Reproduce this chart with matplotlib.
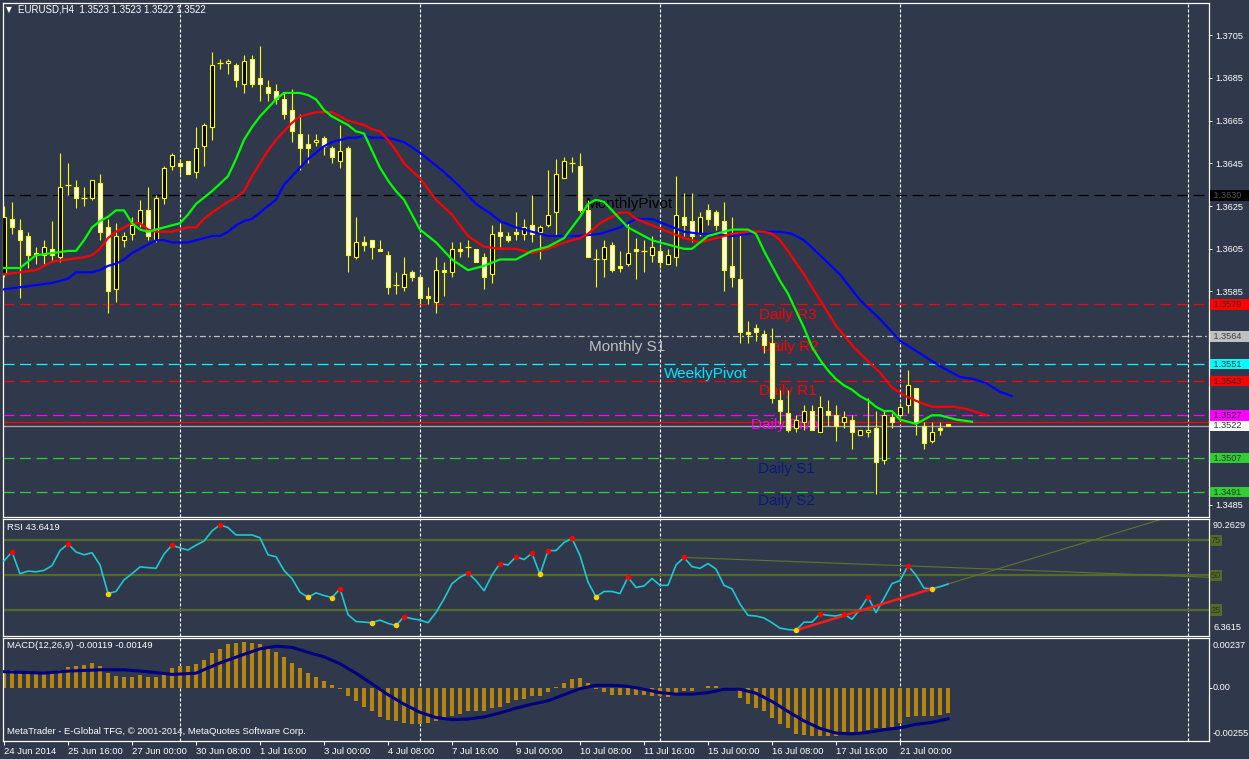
import numpy as np
import matplotlib.pyplot as plt
from matplotlib.patches import Rectangle
from matplotlib.transforms import blended_transform_factory

plt.rcParams['font.family'] = ['Liberation Sans', 'DejaVu Sans']
plt.rcParams['lines.scale_dashes'] = False

W, H = 1249, 759
bg = '#2f394b'

# EURUSD H4 candles, 24 Jun 08:00 .. 22 Jul 00:00
opens = [1.3593, 1.3619, 1.3614, 1.3611, 1.3603, 1.3602, 1.3605, 1.3601, 1.3635, 1.3634,
         1.3629, 1.3629, 1.3636, 1.3615, 1.3586, 1.3609, 1.3612, 1.3617, 1.3623, 1.3609,
         1.3629, 1.3644, 1.3645, 1.3646, 1.3641, 1.3653, 1.3662, 1.3692, 1.3692, 1.3691,
         1.3682, 1.3694, 1.3685, 1.3681, 1.3679, 1.3675, 1.3670, 1.3659, 1.3654, 1.3655,
         1.3657, 1.3652, 1.3646, 1.3652, 1.3601, 1.3608, 1.3609, 1.3605, 1.3602, 1.3588,
         1.3587, 1.3594, 1.3592, 1.3583, 1.3580, 1.3595, 1.3594, 1.3605, 1.3606, 1.3605,
         1.3601, 1.3593, 1.3613, 1.3611, 1.3613, 1.3612, 1.3616, 1.3613, 1.3616, 1.3622,
         1.3638, 1.3645, 1.3644, 1.3623, 1.3600, 1.3600, 1.3607, 1.3597, 1.3598, 1.3605,
         1.3604, 1.3602, 1.3604, 1.3598, 1.3601, 1.3620, 1.3618, 1.3612, 1.3623, 1.3622,
         1.3618, 1.3597, 1.3591, 1.3566, 1.3568, 1.3565, 1.3561, 1.3534, 1.3528, 1.3521,
         1.3524, 1.3529, 1.3519, 1.3529, 1.3527, 1.3524, 1.3525, 1.3518, 1.3519, 1.3521,
         1.3506, 1.3526, 1.3527, 1.3532, 1.3540, 1.3522, 1.3515, 1.3521, 1.3523]
highs = [1.3625, 1.3627, 1.3619, 1.3613, 1.3606, 1.3609, 1.3618, 1.3650, 1.3645, 1.3637,
         1.3634, 1.3637, 1.3640, 1.3619, 1.3617, 1.3613, 1.3620, 1.3628, 1.3634, 1.3630,
         1.3644, 1.3650, 1.3647, 1.3646, 1.3662, 1.3664, 1.3697, 1.3694, 1.3694, 1.3692,
         1.3696, 1.3696, 1.3700, 1.3684, 1.3682, 1.3678, 1.3680, 1.3668, 1.3659, 1.3659,
         1.3658, 1.3653, 1.3663, 1.3653, 1.3620, 1.3611, 1.3609, 1.3609, 1.3604, 1.3594,
         1.3601, 1.3595, 1.3592, 1.3587, 1.3601, 1.3599, 1.3608, 1.3608, 1.3609, 1.3605,
         1.3603, 1.3616, 1.3617, 1.3613, 1.3622, 1.3619, 1.3630, 1.3616, 1.3642, 1.3647,
         1.3648, 1.3648, 1.3650, 1.3628, 1.3605, 1.3609, 1.3608, 1.3604, 1.3617, 1.3610,
         1.3609, 1.3611, 1.3606, 1.3605, 1.3639, 1.3631, 1.3631, 1.3622, 1.3626, 1.3623,
         1.3627, 1.3620, 1.3612, 1.3571, 1.3570, 1.3567, 1.3568, 1.3539, 1.3539, 1.3527,
         1.3532, 1.3532, 1.3536, 1.3534, 1.3532, 1.3529, 1.3527, 1.3520, 1.3535, 1.3529,
         1.3529, 1.3528, 1.3533, 1.3548, 1.3540, 1.3524, 1.3524, 1.3524, 1.3523]
lows = [1.3592, 1.3612, 1.3582, 1.3596, 1.3598, 1.3598, 1.3599, 1.3599, 1.3630, 1.3624,
        1.3625, 1.3628, 1.3609, 1.3575, 1.3580, 1.3606, 1.3609, 1.3615, 1.3609, 1.3608,
        1.3626, 1.3642, 1.3640, 1.3640, 1.3638, 1.3644, 1.3656, 1.3689, 1.3687, 1.3681,
        1.3678, 1.3681, 1.3674, 1.3674, 1.3673, 1.3666, 1.3655, 1.3642, 1.3645, 1.3653,
        1.3649, 1.3645, 1.3643, 1.3594, 1.3600, 1.3604, 1.3600, 1.3604, 1.3584, 1.3584,
        1.3585, 1.3590, 1.3579, 1.3579, 1.3575, 1.3583, 1.3592, 1.3601, 1.3601, 1.3599,
        1.3586, 1.3589, 1.3606, 1.3608, 1.3609, 1.3609, 1.3608, 1.3600, 1.3615, 1.3611,
        1.3638, 1.3641, 1.3622, 1.3601, 1.3587, 1.3592, 1.3594, 1.3594, 1.3597, 1.3591,
        1.3594, 1.3599, 1.3596, 1.3598, 1.3597, 1.3611, 1.3608, 1.3611, 1.3616, 1.3614,
        1.3585, 1.3587, 1.3561, 1.3561, 1.3562, 1.3556, 1.3533, 1.3523, 1.3519, 1.3519,
        1.3520, 1.3520, 1.3519, 1.3522, 1.3515, 1.3521, 1.3511, 1.3518, 1.3517, 1.3490,
        1.3504, 1.3521, 1.3526, 1.3528, 1.3518, 1.3511, 1.3514, 1.3518, 1.3522]
closes = [1.3620, 1.3615, 1.3609, 1.3602, 1.3602, 1.3606, 1.3602, 1.3634, 1.3635, 1.3629,
          1.3629, 1.3637, 1.3613, 1.3585, 1.3611, 1.3611, 1.3616, 1.3623, 1.3611, 1.3629,
          1.3643, 1.3649, 1.3644, 1.3640, 1.3652, 1.3663, 1.3691, 1.3692, 1.3693, 1.3684,
          1.3693, 1.3682, 1.3682, 1.3678, 1.3675, 1.3668, 1.3660, 1.3652, 1.3652, 1.3656,
          1.3653, 1.3648, 1.3651, 1.3602, 1.3608, 1.3607, 1.3606, 1.3604, 1.3587, 1.3588,
          1.3593, 1.3592, 1.3582, 1.3582, 1.3595, 1.3594, 1.3605, 1.3604, 1.3606, 1.3599,
          1.3592, 1.3612, 1.3611, 1.3609, 1.3612, 1.3615, 1.3612, 1.3615, 1.3621, 1.3640,
          1.3646, 1.3645, 1.3623, 1.3601, 1.3600, 1.3606, 1.3595, 1.3596, 1.3603, 1.3604,
          1.3604, 1.3606, 1.3599, 1.3602, 1.3621, 1.3616, 1.3611, 1.3620, 1.3619, 1.3616,
          1.3595, 1.3592, 1.3566, 1.3565, 1.3566, 1.3560, 1.3535, 1.3529, 1.3520, 1.3525,
          1.3529, 1.3520, 1.3531, 1.3527, 1.3522, 1.3526, 1.3519, 1.3520, 1.3520, 1.3505,
          1.3527, 1.3524, 1.3531, 1.3541, 1.3524, 1.3514, 1.3519, 1.3520, 1.3522]

# Alligator lines (lips / teeth / jaw), read at sample bars
lips_x = [0, 2, 4, 6, 8, 9, 10, 11, 12, 13, 14, 15, 16, 17, 18, 19, 20, 21, 22, 23, 24, 25, 26, 28,
          29, 30, 31, 32, 33, 34, 35, 36, 37, 38, 39, 40, 41, 42, 43, 44, 45, 46, 47, 48, 49, 50,
          52, 54, 56, 58, 60, 62, 64, 66, 68, 70, 72, 73, 74, 75, 76, 77, 78, 79, 80, 81, 82, 83,
          84, 85, 86, 87, 88, 89, 90, 91, 92, 93, 94, 95, 96, 97, 98, 99, 100, 101, 102, 103,
          104, 105, 106, 107, 108, 109, 110, 111, 112, 113, 114, 115, 116, 117, 118, 119, 121]
lips_y = [1.3596, 1.3596, 1.3602, 1.3603, 1.3604, 1.3604, 1.3609, 1.3615, 1.3618, 1.3620, 1.3623,
          1.3623, 1.3617, 1.3614, 1.3613, 1.3614, 1.3615, 1.3616, 1.3617, 1.3621, 1.3626, 1.3629,
          1.3632, 1.3639, 1.3647, 1.3656, 1.3662, 1.3667, 1.3671, 1.3675, 1.3678, 1.3678, 1.3678,
          1.3677, 1.3675, 1.3670, 1.3667, 1.3665, 1.3663, 1.3660, 1.3659, 1.3651, 1.3643, 1.3637,
          1.3632, 1.3628, 1.3614, 1.3608, 1.3600, 1.3595, 1.3597, 1.3600, 1.3600, 1.3604, 1.3606,
          1.3610, 1.3620, 1.3626, 1.3628, 1.3627, 1.3623, 1.3619, 1.3615, 1.3613, 1.3611, 1.3609,
          1.3608, 1.3607, 1.3606, 1.3605, 1.3605, 1.3608, 1.3611, 1.3612, 1.3613, 1.3614, 1.3614,
          1.3614, 1.3612, 1.3604, 1.3597, 1.3590, 1.3584, 1.3576, 1.3568, 1.3559, 1.3553, 1.3548,
          1.3544, 1.3541, 1.3539, 1.3536, 1.3534, 1.3531, 1.3529, 1.3529, 1.3525, 1.3524, 1.3523,
          1.3525, 1.3527, 1.3527, 1.3526, 1.3525, 1.3524]
teeth_x = [0, 2, 4, 5, 6, 8, 10, 11, 12, 13, 14, 15, 16, 17, 18, 19, 20, 21, 22, 23, 24, 25, 26,
           28, 29, 30, 31, 32, 33, 34, 35, 36, 37, 38, 39, 40, 41, 42, 43, 44, 45, 46, 47, 48, 49,
           50, 52, 54, 56, 58, 60, 62, 64, 66, 68, 70, 72, 73, 74.5, 76, 77, 78, 79, 81, 83, 85,
           87, 89, 91, 93, 95, 96, 97, 98, 100, 102, 104, 106.2, 107.8, 109.5, 111, 112.7, 114.5,
           116, 117, 118.7, 120.3, 122.8]
teeth_y = [1.3593, 1.3594, 1.3595, 1.3597, 1.3599, 1.3600, 1.3601, 1.3602, 1.3605, 1.3610, 1.3613,
           1.3615, 1.3617, 1.3617, 1.3614, 1.3613, 1.3613, 1.3613, 1.3614, 1.3615, 1.3615, 1.3619,
           1.3622, 1.3627, 1.3629, 1.3632, 1.3639, 1.3645, 1.3651, 1.3656, 1.3660, 1.3664, 1.3667,
           1.3668, 1.3669, 1.3669, 1.3669, 1.3667, 1.3665, 1.3664, 1.3663, 1.3661, 1.3660, 1.3656,
           1.3651, 1.3645, 1.3638, 1.3628, 1.3621, 1.3611, 1.3606, 1.3605, 1.3605, 1.3603, 1.3605,
           1.3608, 1.3610, 1.3612, 1.3617, 1.3620, 1.3622, 1.3622, 1.3619, 1.3616, 1.3613, 1.3610,
           1.3608, 1.3610, 1.3612, 1.3613, 1.3613, 1.3612, 1.3609, 1.3604, 1.3593, 1.3581, 1.3569,
           1.3559, 1.3553, 1.3547, 1.3540, 1.3536, 1.3533, 1.3531, 1.3531, 1.3531, 1.3530, 1.3527]
jaw_x = [0, 2, 4, 6, 8, 9, 11, 12, 13, 14, 15, 16, 17, 18, 19, 20, 21, 22, 23, 24, 25, 26, 27, 28,
         29, 30, 31, 32, 33, 34, 35, 36, 37, 38, 39, 40, 41, 42, 43, 44, 45, 46, 47, 48, 49, 50,
         52, 55, 57, 59, 61, 62, 64, 66, 68, 70, 72, 74.5, 77, 79, 81, 83, 85, 87, 89, 91, 93, 95,
         97, 98.5, 100, 102, 104.5, 107, 109.5, 112, 114.5, 117, 119.5, 121.2, 122.8, 124.5, 126]
jaw_y = [1.3586, 1.3587, 1.3588, 1.3589, 1.3591, 1.3594, 1.3594, 1.3595, 1.3597, 1.3598, 1.3600,
         1.3603, 1.3605, 1.3607, 1.3609, 1.3609, 1.3608, 1.3608, 1.3608, 1.3609, 1.3610, 1.3611,
         1.3611, 1.3613, 1.3616, 1.3618, 1.3619, 1.3622, 1.3625, 1.3628, 1.3635, 1.3639, 1.3643,
         1.3647, 1.3650, 1.3653, 1.3655, 1.3656, 1.3657, 1.3657, 1.3658, 1.3657, 1.3657, 1.3657,
         1.3656, 1.3655, 1.3650, 1.3641, 1.3634, 1.3626, 1.3621, 1.3618, 1.3615, 1.3613, 1.3611,
         1.3611, 1.3611, 1.3612, 1.3615, 1.3619, 1.3619, 1.3616, 1.3613, 1.3612, 1.3612, 1.3611,
         1.3612, 1.3613, 1.3613, 1.3612, 1.3609, 1.3602, 1.3593, 1.3581, 1.3572, 1.3562, 1.3556,
         1.3550, 1.3545, 1.3544, 1.3542, 1.3538, 1.3536]

# pivot / level lines: price, colour, style
levels = [(1.3630, '#000000', 'dash'), (1.3579, '#ff0000', 'dash'), (1.3564, '#c0c0c0', 'dashdot'),
          (1.3551, '#00ffff', 'dash'), (1.3543, '#ff0000', 'dash'), (1.3527, '#ff00ff', 'dash'),
          (1.3507, '#32cd32', 'dash'), (1.3491, '#32cd32', 'dash')]
ask_price, bid_price = 1.3524, 1.3522
level_tags = [(1.3630, '#000000', '#505050'), (1.3579, '#ff0000', '#3a2a2a'),
              (1.3564, '#c0c0c0', '#404040'), (1.3551, '#00ffff', '#1e3a3a'),
              (1.3543, '#ff0000', '#3a2a2a'), (1.3527, '#ff00ff', '#3a2a3a'),
              (1.3522, '#ffffff', '#303030'), (1.3507, '#32cd32', '#1f3a1f'),
              (1.3491, '#32cd32', '#1f3a1f')]
pivot_names = [('MonthlyPivot', 72.75, 1.3626, '#000000'), ('Monthly S1', 73.1, 1.3559, '#c0c0c0'),
               ('WeeklyPivot', 82.5, 1.35463, '#00e5ff'), ('Daily R3', 94.4, 1.3574, '#ff0000'),
               ('Daily R2', 94.6, 1.3559, '#ff0000'), ('Daily R1', 94.4, 1.35384, '#ff0000'),
               ('Daily Pivot', 93.4, 1.35225, '#ff00ff'), ('Daily S1', 94.25, 1.35019, '#0a1a80'),
               ('Daily S2', 94.25, 1.34869, '#0a1a80')]
price_ticks = [1.3705, 1.3685, 1.3665, 1.3645, 1.3625, 1.3605, 1.3585, 1.3565, 1.3545, 1.3525,
               1.3505, 1.3485]
hidden_ticks = [1.3565, 1.3545, 1.3525, 1.3505]   # covered by the level tags

rsi = [60.2, 66.6, 51.0, 52.9, 52.4, 53.4, 56.8, 67.6, 72.4, 66.6, 64.6, 66.1, 57.3, 36.8, 38.3,
       46.6, 51.0, 55.9, 55.4, 54.9, 65.1, 71.5, 69.5, 68.0, 71.5, 74.4, 81.7, 86.1, 84.1, 78.8,
       78.8, 78.8, 76.8, 64.6, 63.2, 53.4, 47.6, 37.8, 34.1, 37.3, 35.4, 33.9, 40.2, 21.7, 16.8,
       16.3, 15.9, 17.8, 15.4, 13.9, 20.2, 18.8, 17.8, 15.9, 23.2, 32.9, 43.9, 48.5, 51.5, 46.1,
       38.8, 50.0, 58.3, 57.3, 63.2, 61.2, 65.6, 50.5, 67.6, 67.6, 73.4, 76.3, 64.1, 45.1, 34.4,
       38.3, 38.3, 36.8, 48.5, 41.2, 42.2, 47.6, 42.7, 42.7, 57.3, 62.7, 56.1, 54.9, 58.3, 54.4,
       42.7, 40.2, 29.3, 21.2, 20.7, 19.3, 15.9, 12.0, 11.0, 10.5, 16.3, 16.3, 22.2, 21.2, 20.7,
       22.2, 18.3, 25.6, 34.4, 23.2, 33.4, 43.9, 46.1, 56.8, 50.0, 40.7, 40.2, 41.7, 43.6]
rsi_peaks = [1, 8, 21, 27, 42, 50, 58, 62, 64, 66, 68, 71, 78, 85, 102, 105, 108, 113]
rsi_troughs = [13, 38, 41, 46, 49, 67, 74, 99, 116]
rsi_levels = [75, 50, 25]
rsi_min, rsi_max = 6.3615, 90.2629

macd_hist = [0.00082, 0.00082, 0.00079, 0.00066, 0.00063, 0.00063, 0.00069, 0.00085, 0.00098,
             0.00101, 0.00108, 0.00118, 0.00101, 0.00069, 0.00056, 0.00053, 0.00053, 0.00060,
             0.00050, 0.00053, 0.00072, 0.00095, 0.00105, 0.00101, 0.00111, 0.00134, 0.00163,
             0.00185, 0.00208, 0.00214, 0.00217, 0.00214, 0.00208, 0.00192, 0.00172, 0.00147,
             0.00118, 0.00092, 0.00072, 0.00053, 0.00031, 0.00011, -0.00005, -0.00040, -0.00066,
             -0.00092, -0.00114, -0.00140, -0.00153, -0.00159, -0.00169, -0.00175, -0.00175,
             -0.00169, -0.00159, -0.00143, -0.00134, -0.00124, -0.00111, -0.00114, -0.00114,
             -0.00098, -0.00092, -0.00072, -0.00060, -0.00053, -0.00040, -0.00040, -0.00021,
             0.00005, 0.00021, 0.00043, 0.00047, 0.00024, -0.00005, -0.00021, -0.00034, -0.00037,
             -0.00034, -0.00034, -0.00037, -0.00040, -0.00040, -0.00043, -0.00027, -0.00018,
             -0.00014, -0.00002, 0.00008, 0.00008, -0.00002, -0.00011, -0.00050, -0.00076,
             -0.00098, -0.00114, -0.00147, -0.00175, -0.00195, -0.00221, -0.00227, -0.00233,
             -0.00233, -0.00230, -0.00230, -0.00221, -0.00214, -0.00211, -0.00204, -0.00195,
             -0.00195, -0.00188, -0.00169, -0.00140, -0.00137, -0.00137, -0.00137, -0.00130,
             -0.00119]
signal_x = [0, 5, 8, 12, 15, 18, 21, 24, 27, 30, 32, 34, 36, 38, 40, 42, 44, 46, 48, 50, 52, 54,
            56, 58, 60, 62, 64, 66, 68, 70, 72, 74, 76, 78, 80, 82, 84, 86, 88, 90, 92, 94, 96, 98,
            100, 102, 104, 106, 108, 110, 112, 114, 116, 118]
signal_y = [0.00076, 0.00069, 0.00079, 0.00085, 0.00085, 0.00076, 0.00063, 0.00069, 0.00118,
            0.00159, 0.00185, 0.00198, 0.00192, 0.00169, 0.00147, 0.00114, 0.00069, 0.00018,
            -0.00034, -0.00079, -0.00118, -0.00143, -0.00153, -0.00150, -0.00140, -0.00121,
            -0.00098, -0.00079, -0.00063, -0.00034, -0.00005, 0.00011, 0.00011, 0.00006,
            -0.00008, -0.00024, -0.00031, -0.00031, -0.00024, -0.00008, -0.00008, -0.00027,
            -0.00066, -0.00114, -0.00159, -0.00195, -0.00217, -0.00221, -0.00214, -0.00201,
            -0.00192, -0.00175, -0.00166, -0.00149]
macd_min, macd_max = -0.00255, 0.00237

date_labels = ['24 Jun 2014', '25 Jun 16:00', '27 Jun 00:00', '30 Jun 08:00', '1 Jul 16:00',
               '3 Jul 00:00', '4 Jul 08:00', '7 Jul 16:00', '9 Jul 00:00', '10 Jul 08:00',
               '11 Jul 16:00', '15 Jul 00:00', '16 Jul 08:00', '17 Jul 16:00', '21 Jul 00:00']
date_pos = list(range(0, 120, 8))
week_breaks = [22, 52, 82, 112, 148]


fig = plt.figure(figsize=(W / 100, H / 100), dpi=100, facecolor=bg)


def px_box(x0, y0, x1, y1):
    return [x0 / W, 1 - y1 / H, (x1 - x0) / W, (y1 - y0) / H]


def ftext(x, y, s, **kw):
    kw.setdefault('color', 'white')
    kw.setdefault('fontsize', 6.8)
    kw.setdefault('va', 'center')
    fig.text(x / W, 1 - y / H, s, **kw)


ax = fig.add_axes(px_box(3, 3, 1209, 517))
rax = fig.add_axes(px_box(3, 519, 1209, 636))
max_ = fig.add_axes(px_box(3, 638, 1209, 741))

for a in (ax, rax, max_):
    a.set_facecolor(bg)
    a.set_xlim(-0.125, 150.625)
    for s in a.spines.values():
        s.set_color('white')
        s.set_linewidth(0.9)
    a.tick_params(axis='x', bottom=False, labelbottom=False)
    a.yaxis.tick_right()
    a.tick_params(axis='y', colors='white', labelsize=6.6, length=2.5, width=0.7, pad=2)
    for b in week_breaks:
        a.axvline(b, color='white', lw=0.8, dashes=(2.2, 1.4), zorder=1)

# ---- main price window
ax.set_ylim(1.347937, 1.372013)
ax.set_yticks(price_ticks)
ax.set_yticklabels(['' if v in hidden_ticks else f'{v:.4f}' for v in price_ticks])

for p, col, style in levels:
    d = (4.3, 2.2, 1.4, 2.2) if style == 'dashdot' else (7.9, 4.0)
    ax.axhline(p, color=col, lw=0.9, dashes=d, zorder=2)
ax.axhline(bid_price, color='#a8a8b0', lw=0.9, zorder=2)
ax.axhline(ask_price, color='#ff0000', lw=1.0, zorder=2)

for name, xi, p, col in pivot_names:
    ax.text(xi, p, name, color=col, fontsize=11, ha='left', va='center', zorder=2.5)

for i in range(len(opens)):
    o, h, l, c = opens[i], highs[i], lows[i], closes[i]
    ax.vlines(i, l, h, color='#ffff00', lw=0.8, zorder=3)
    if o == c:
        ax.hlines(o, i - 0.32, i + 0.32, color='#ffff00', lw=0.9, zorder=4)
    else:
        ax.add_patch(Rectangle((i - 0.3, min(o, c)), 0.6, abs(c - o),
                               fc='#000000' if c > o else '#ffffff', ec='#ffff00', lw=0.8, zorder=4))

ax.plot(jaw_x, jaw_y, color='#0000ff', lw=1.6, zorder=5)
ax.plot(teeth_x, teeth_y, color='#ff0000', lw=1.6, zorder=5)
ax.plot(lips_x, lips_y, color='#00ff00', lw=1.6, zorder=5)

tr = blended_transform_factory(ax.transAxes, ax.transData)
for p, fc, tc in level_tags:
    ax.text(1.0016, p, f' {p:.4f}   ', transform=tr, ha='left', va='center', fontsize=6.6,
            color=tc, bbox=dict(boxstyle='square,pad=0.08', fc=fc, ec='none'),
            clip_on=False, zorder=10)

# ---- RSI window
rax.set_ylim(rsi_min, rsi_max)
rax.set_yticks(rsi_levels)
rax.set_yticklabels([])
for lv in rsi_levels:
    rax.axhline(lv, color='#55692b', lw=1.6, zorder=2)
rax.plot([85, 150.6], [rsi[85], 48.5], color='#5f7430', lw=0.8, zorder=2)
rax.plot([116, 145], [rsi[116], 90.6], color='#5f7430', lw=0.8, zorder=2)
rax.plot(range(len(rsi)), rsi, color='#1fc8d0', lw=1.2, zorder=3)
rax.plot([99, 116], [rsi[99], rsi[116]], color='#ff1a1a', lw=1.8, zorder=4)
rax.scatter(rsi_peaks, [rsi[i] for i in rsi_peaks], s=16, color='#ff0000', zorder=5, lw=0)
rax.scatter(rsi_troughs, [rsi[i] for i in rsi_troughs], s=16, color='#ffd000', zorder=5, lw=0)
rtr = blended_transform_factory(rax.transAxes, rax.transData)
for lv in rsi_levels:
    rax.text(1.0016, lv, f'{lv}', transform=rtr, ha='left', va='center', fontsize=6.6,
             color='#2c3818', bbox=dict(boxstyle='square,pad=0.12', fc='#55692b', ec='none'),
             clip_on=False, zorder=10)

# ---- MACD window
max_.set_ylim(macd_min, macd_max)
max_.set_yticks([0.0])
max_.set_yticklabels([])
max_.bar(range(len(macd_hist)), macd_hist, width=0.5, color='#b8860b', zorder=2)
max_.plot(signal_x, signal_y, color='#000080', lw=2.2, zorder=3)
max_.tick_params(axis='x', bottom=True, labelbottom=True, direction='out', length=3, width=0.7,
                 colors='white', labelsize=6.8, pad=1)
max_.set_xticks(date_pos)
max_.set_xticklabels(date_labels)
for lbl in max_.get_xticklabels():
    lbl.set_ha('left')

# ---- texts
ftext(9, 10, '\u25bc', fontsize=5.5, ha='center', family='DejaVu Sans')
ftext(18, 10, 'EURUSD,H4  1.3523 1.3523 1.3522 1.3522', fontsize=7)
ftext(7, 527, 'RSI 43.6419')
ftext(7, 646, 'MACD(12,26,9) -0.00119 -0.00149')
ftext(7, 732, 'MetaTrader - E-Global TFG, \u00a9 2001-2014, MetaQuotes Software Corp.')
ftext(1213, 526, '90.2629', fontsize=6.6)
ftext(1213, 628, '6.3615', fontsize=6.6)
ftext(1213, 645, '0.00237', fontsize=6.6)
ftext(1213, 688, '0.00', fontsize=6.6)
ftext(1213, 734, '-0.00255', fontsize=6.6)

fig.savefig('out.png', dpi=100, facecolor=bg)
